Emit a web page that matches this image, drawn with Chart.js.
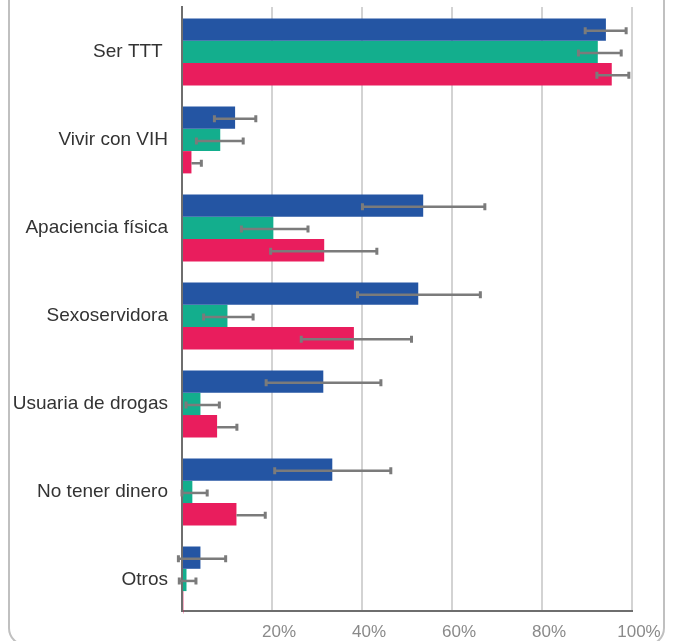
<!DOCTYPE html>
<html>
<head>
<meta charset="utf-8">
<script src="https://cdn.jsdelivr.net/npm/chart.js@4.4.0/dist/chart.umd.min.js"></script>
<style>
  html, body { margin: 0; padding: 0; background: #fff; }
  #wrap { position: relative; width: 673px; height: 641px; overflow: hidden; }
  #frame { position: absolute; left: 8px; top: -40px; width: 653px; height: 682px;
           border: 2px solid #c0c0c0; border-radius: 18px; }
  #chart { position: absolute; left: 0; top: 0; }
</style>
</head>
<body>
<div id="wrap">
  <div id="frame"></div>
  <canvas id="chart" width="673" height="641"></canvas>
</div>
<script>
// categories (y axis) and tick labels (x axis)
const categories = ["Ser TTT ", "Vivir con VIH", "Apaciencia física", "Sexoservidora",
  "Usuaria de drogas", "No tener dinero", "Otros"];
const xTickLabels = ["", "20%", "40%", "60%", "80%", "100%"];

// series values (%), with error bar low / high ends
const blueValues = [94.2, 11.8, 53.6, 52.5, 31.4, 33.4, 4.1];
const blueLow    = [89.6, 7.2, 40.1, 39.0, 18.7, 20.6, -0.8];
const blueHigh   = [98.7, 16.4, 67.3, 66.3, 44.2, 46.4, 9.7];

const greenValues = [92.4, 8.5, 20.3, 10.1, 4.1, 2.3, 1.0];
const greenLow    = [88.1, 3.2, 13.2, 4.8, 0.9, 0.0, -0.6];
const greenHigh   = [97.6, 13.6, 28.0, 15.8, 8.3, 5.6, 3.1];

const pinkValues = [95.5, 2.1, 31.6, 38.2, 7.8, 12.1, 0.3];
const pinkLow    = [92.2, 2.1, 19.7, 26.5, 7.8, 12.1, null];
const pinkHigh   = [99.3, 4.3, 43.3, 51.0, 12.2, 18.5, null];

const FONT = "'Liberation Sans', Arial, sans-serif";

// draws the whiskers on top of the bars
const errorBars = {
  id: "errorBars",
  afterDatasetsDraw(chart) {
    const ctx = chart.ctx;
    const xs = chart.scales.x;
    ctx.save();
    ctx.strokeStyle = "#7b7b7b";
    chart.data.datasets.forEach((ds, di) => {
      const meta = chart.getDatasetMeta(di);
      meta.data.forEach((bar, i) => {
        const lo = ds.errLow[i];
        const hi = ds.errHigh[i];
        if (lo == null || hi == null) return;
        const x0 = xs.getPixelForValue(lo);
        const x1 = xs.getPixelForValue(hi);
        const y = bar.y + 1;
        ctx.lineWidth = 2.5;
        ctx.beginPath();
        ctx.moveTo(x0, y);
        ctx.lineTo(x1, y);
        ctx.stroke();
        ctx.lineWidth = 3;
        ctx.beginPath();
        if (lo < ds.data[i]) {
          ctx.moveTo(x0, y - 3.5);
          ctx.lineTo(x0, y + 3.5);
        }
        ctx.moveTo(x1, y - 3.5);
        ctx.lineTo(x1, y + 3.5);
        ctx.stroke();
      });
    });
    ctx.restore();
  },
};

// the original spaces the groups a bit tighter than the plot height,
// so the category range is stretched slightly past the axis
const bandFit = {
  id: "bandFit",
  afterLayout(chart) {
    const y = chart.scales.y;
    y._startValue = -0.511;
    y._valueRange = 6.864;
  },
};

function makeSet(label, data, low, high, color) {
  return {
    label: label,
    data: data,
    errLow: low,
    errHigh: high,
    backgroundColor: color,
    borderWidth: 0,
    barPercentage: 1.0,
    categoryPercentage: 0.76,
    clip: false,
  };
}

new Chart(document.getElementById("chart"), {
  type: "bar",
  data: {
    labels: categories,
    datasets: [
      makeSet("Serie 1", blueValues, blueLow, blueHigh, "#2455a3"),
      makeSet("Serie 2", greenValues, greenLow, greenHigh, "#13ae8d"),
      makeSet("Serie 3", pinkValues, pinkLow, pinkHigh, "#e91d5d"),
    ],
  },
  options: {
    indexAxis: "y",
    responsive: false,
    animation: false,
    devicePixelRatio: 1,
    layout: { padding: { top: 7, right: 41, bottom: 0, left: 0 } },
    plugins: { legend: { display: false }, tooltip: { enabled: false } },
    scales: {
      x: {
        min: 0,
        max: 100,
        ticks: {
          stepSize: 20,
          color: "#8a8a8a",
          font: { family: FONT, size: 17 },
          padding: 11,
          labelOffset: 7,
          maxRotation: 0,
          callback: (v, i) => xTickLabels[i],
        },
        grid: { color: "#d3d3d3", lineWidth: 2, drawTicks: false },
        border: { color: "#6e6e6e", width: 2 },
        afterFit: (s) => {
          s.height = 30;
          s.paddingLeft = 0;
          s.paddingRight = 0;
        },
      },
      y: {
        ticks: {
          color: "#333333",
          font: { family: FONT, size: 19 },
          padding: 14,
        },
        grid: { display: false, drawTicks: false },
        border: { color: "#6e6e6e", width: 2 },
        afterFit: (s) => {
          s.width = 182;
          s.paddingTop = 0;
          s.paddingBottom = 0;
        },
      },
    },
  },
  plugins: [bandFit, errorBars],
});
</script>
</body>
</html>
